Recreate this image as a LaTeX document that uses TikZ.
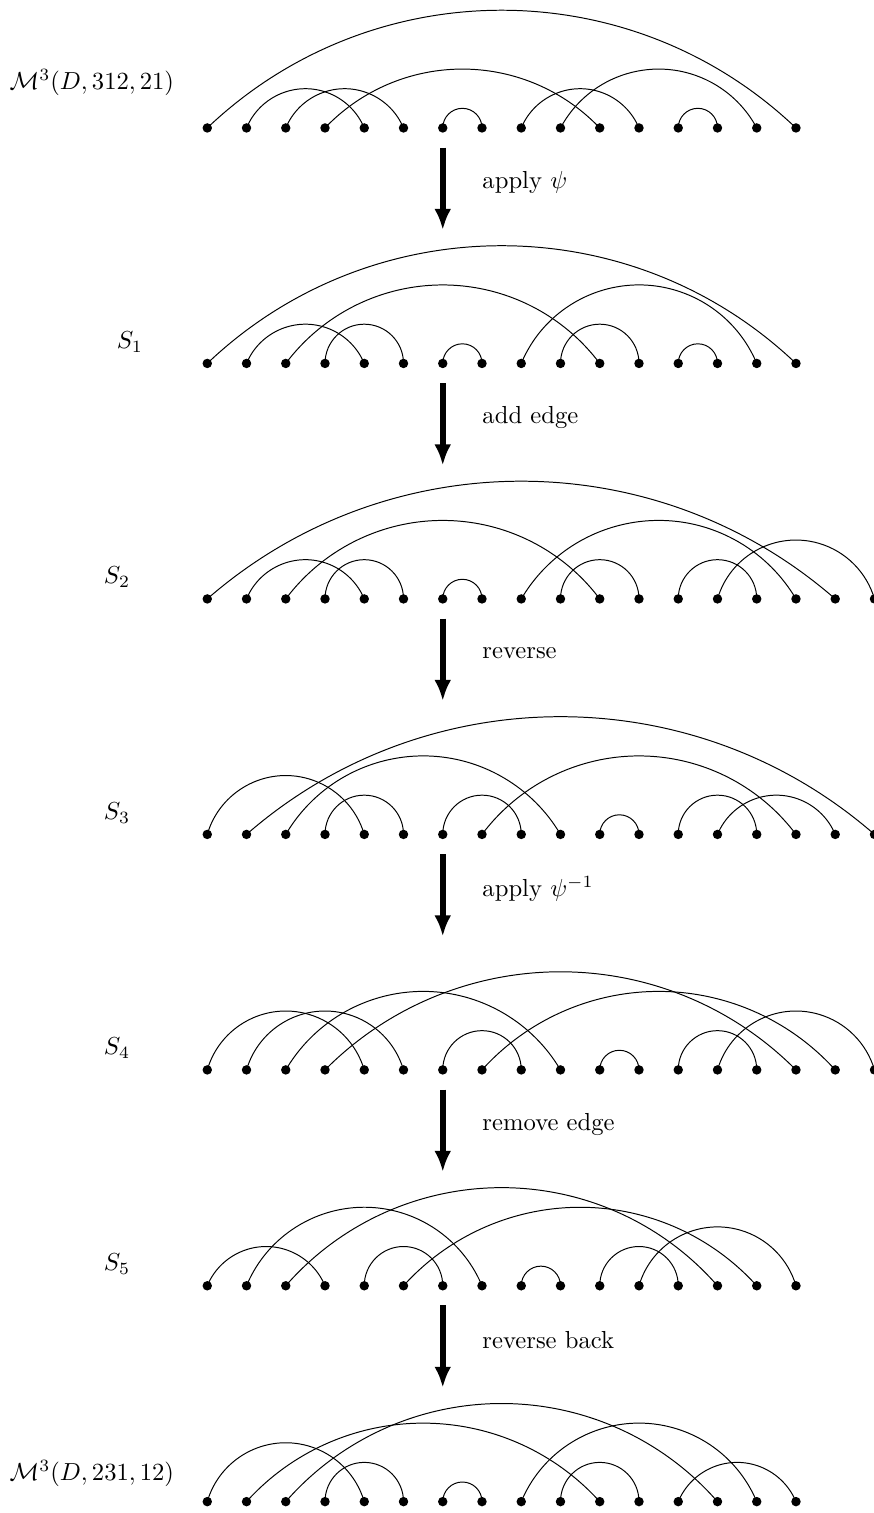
\documentclass[tikz,border=0pt]{standalone}
\usepackage{amsmath}
\usepackage{amssymb}
\usetikzlibrary{arrows.meta}

\newcommand{\chord}[4]{%
  \pgfmathsetmacro{\arcw}{(#3-#2)/2}%
  \pgfmathsetmacro{\arch}{#4/2}%
  \pgfmathsetmacro{\arcr}{(\arcw*\arcw+\arch*\arch)/(2*\arch)}%
  \pgfmathsetmacro{\arca}{asin(min(1,\arcw/\arcr))}%
  \draw (#1#2.center) arc[start angle=90+\arca, end angle=90-\arca, radius=\arcr];%
}

\begin{document}
\begin{tikzpicture}[
    x=0.56cm, y=0.56cm,
    dot/.style={circle, fill, inner sep=0pt, minimum size=1.35mm},
    flow/.style={line width=2.3pt, -{Latex[length=3mm, width=2.4mm]}},
    steplabel/.style={anchor=west, inner sep=0pt},
]
\useasboundingbox (-4.281,3.26) rectangle (17.986,-35.29);

% points
\foreach \r/\y/\n in {a/0/16, b/-6/16, c/-12/18, d/-18/18, e/-24/18, f/-29.5/16, g/-35/16}
    \foreach \i in {1,...,\n}
        \node[dot] (\r\i) at (\i,\y) {};

\node (ma) at (-1.94,1.15) {$\mathcal{M}^3(D,312,21)$};
\node (sb) at (-0.97,-5.45) {$S_1$};
\node (sc) at (-1.3,-11.45) {$S_2$};
\node (sd) at (-1.3,-17.45) {$S_3$};
\node (se) at (-1.3,-23.45) {$S_4$};
\node (sf) at (-1.3,-28.95) {$S_5$};
\node (mg) at (-1.94,-34.28) {$\mathcal{M}^3(D,231,12)$};

% steps between the rows
\foreach \r/\y/\t in {a/0/apply $\psi$, b/-6/add edge, c/-12/reverse,
        d/-18/apply $\psi^{-1}$, e/-24/remove edge, f/-29.5/reverse back} {
    \coordinate (\r-from) at (7,\y-0.5);
    \coordinate (\r-to) at (7,\y-2.6);
    \draw[flow] (\r-from) -- (\r-to);
    \node[steplabel] (\r-text) at (8,\y-1.38) {\t};
}

% arcs
\foreach \i/\j/\lev in {1/16/6, 2/5/2, 3/6/2, 4/11/3, 7/8/1, 9/12/2, 10/15/3, 13/14/1}
    {\chord{a}{\i}{\j}{\lev}}
\foreach \i/\j/\lev in {1/16/6, 2/5/2, 3/11/4, 4/6/2, 7/8/1, 9/15/4, 10/12/2, 13/14/1}
    {\chord{b}{\i}{\j}{\lev}}
\foreach \i/\j/\lev in {1/17/6, 2/5/2, 3/11/4, 4/6/2, 7/8/1, 9/16/4, 10/12/2, 13/15/2, 14/18/3}
    {\chord{c}{\i}{\j}{\lev}}
\foreach \i/\j/\lev in {1/5/3, 2/18/6, 3/10/4, 4/6/2, 7/9/2, 8/16/4, 11/12/1, 13/15/2, 14/17/2}
    {\chord{d}{\i}{\j}{\lev}}
\foreach \i/\j/\lev in {1/5/3, 2/6/3, 3/10/4, 4/16/5, 7/9/2, 8/17/4, 11/12/1, 13/15/2, 14/18/3}
    {\chord{e}{\i}{\j}{\lev}}
\foreach \i/\j/\lev in {1/4/2, 2/8/4, 3/14/5, 5/7/2, 6/15/4, 9/10/1, 11/13/2, 12/16/3}
    {\chord{f}{\i}{\j}{\lev}}
\foreach \i/\j/\lev in {1/5/3, 2/11/4, 3/14/5, 4/6/2, 7/8/1, 9/15/4, 10/12/2, 13/16/2}
    {\chord{g}{\i}{\j}{\lev}}
\end{tikzpicture}
\end{document}
